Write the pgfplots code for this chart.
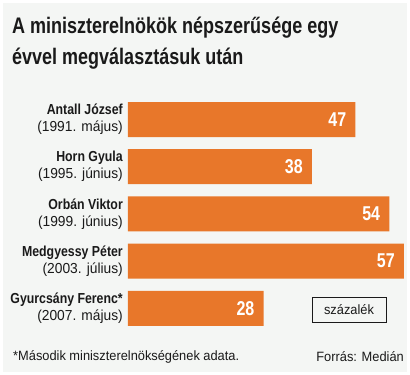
\documentclass[border=0pt]{standalone}
\usepackage{fontspec}
\setmainfont{Liberation Sans}[FakeStretch=0.85]
\newfontfamily\reg{Liberation Sans}[FakeStretch=0.95]
\newfontfamily\ttl{Liberation Sans}[FakeStretch=0.8]
\usepackage{pgfplots}
\pgfplotsset{compat=1.18}
\definecolor{bg}{HTML}{F4F6F4}
\definecolor{barc}{HTML}{E8772A}
\definecolor{txt}{HTML}{1A1A1A}
\begin{document}
\begin{tikzpicture}[x=1pt,y=1pt]
\path[use as bounding box, fill=white] (0,0) rectangle (410,-375);
\fill[bg] (3,-3) rectangle (407,-372);
\node[anchor=base west, inner sep=0pt, text=txt, font=\ttl\bfseries\fontsize{22.5}{31}\selectfont] at (12,-33) {A miniszterelnökök népszerűsége egy};
\node[anchor=base west, inner sep=0pt, text=txt, font=\ttl\bfseries\fontsize{22.5}{31}\selectfont] at (12,-64) {évvel megválasztásuk után};
\begin{axis}[
  at={(128pt,-95.9pt)}, anchor=north west,
  scale only axis, width=280.7pt, height=236pt,
  xbar, bar width=35pt,
  xmin=0, xmax=58, ymin=-0.5, ymax=4.5, y dir=reverse,
  axis line style={draw=none},
  major tick length=0pt,
  xtick=\empty,
  ytick={0,1,2,3,4},
  yticklabels={{\textbf{Antall József}\\{\reg (1991. május)}},
               {\textbf{Horn Gyula}\\{\reg (1995. június)}},
               {\textbf{Orbán Viktor}\\{\reg (1999. június)}},
               {\textbf{Medgyessy Péter}\\{\reg (2003. július)}},
               {\textbf{Gyurcsány Ferenc*}\\{\reg (2007. május)}}},
  yticklabel style={align=right, inner sep=0pt, xshift=-5pt, text=txt,
    font=\fontsize{14.5}{17}\selectfont},
  /pgf/number format/assume math mode=true,
  nodes near coords,
  nodes near coords style={anchor=east, inner sep=0pt, xshift=-9pt, text=white,
    font=\ttl\bfseries\fontsize{20}{20}\selectfont},
  clip=false,
]
\addplot[fill=barc, draw=none] coordinates {(47,0) (38,1) (54,2) (57,3) (28,4)};
\end{axis}
\node[draw=txt, line width=0.9pt, minimum width=74pt, minimum height=25pt, inner sep=0pt, text=txt, font=\reg\fontsize{13.5}{15}\selectfont] at (349,-309.5) {százalék};
\node[anchor=west, inner sep=0pt, text=txt, font=\reg\fontsize{13.5}{15}\selectfont] at (13,-357) {*Második miniszterelnökségének adata.};
\node[anchor=east, inner sep=0pt, text=txt, font=\reg\fontsize{13.5}{15}\selectfont] at (404,-357) {Forrás: Medián};
\end{tikzpicture}
\end{document}
